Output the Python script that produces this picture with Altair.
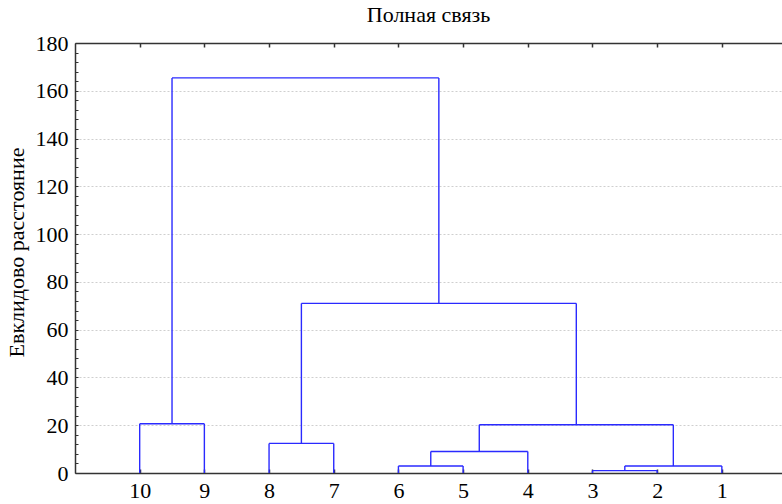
import altair as alt
import pandas as pd

# ---- data ----
leaf_labels = ["10", "9", "8", "7", "6", "5", "4", "3", "2", "1"]
merge_names = ["A", "B", "C", "D", "E", "F", "G", "H", "I"]
merge_left = ["3", "6", "A", "B", "8", "D", "10", "E", "G"]
merge_right = ["2", "5", "1", "4", "7", "C", "9", "F", "H"]
merge_height = [1.0, 2.9, 2.9, 9.0, 12.4, 20.2, 20.6, 71.0, 165.4]

y_ticks = list(range(0, 181, 20))
y_minor = list(range(0, 181, 4))
title_text = "Полная связь"
y_title = "Евклидово расстояние"

# ---- build dendrogram segments from the merge table ----
pos = {lab: i + 1 for i, lab in enumerate(leaf_labels)}
hgt = {lab: 0.0 for lab in leaf_labels}
rows = []
for name, l, r, h in zip(merge_names, merge_left, merge_right, merge_height):
    xl, xr = pos[l], pos[r]
    rows.append(dict(x=xl, x2=xl, y=hgt[l], y2=h))
    rows.append(dict(x=xr, x2=xr, y=hgt[r], y2=h))
    rows.append(dict(x=xl, x2=xr, y=h, y2=h))
    pos[name] = (xl + xr) / 2
    hgt[name] = h
df = pd.DataFrame(rows)

W, H = 707, 430
FONT = "Liberation Serif"
BLUE = "#2a2aff"
FRAME = "#333333"
leaf_positions = list(range(1, len(leaf_labels) + 1))
label_expr = "[" + ",".join("'%s'" % s for s in leaf_labels) + "][datum.value - 1]"

xscale = alt.Scale(domain=[0, 10.93], nice=False, zero=False)
yscale = alt.Scale(domain=[0, 180], nice=False)

base = alt.Chart(df)

main = base.mark_rule(color=BLUE, strokeWidth=1.4).encode(
    x=alt.X("x:Q", scale=xscale, axis=alt.Axis(
        orient="bottom", values=leaf_positions, labelExpr=label_expr,
        labelFont=FONT, labelFontSize=22, labelColor="black", labelPadding=7,
        ticks=False, tickSize=0, domain=True, domainColor=FRAME, domainWidth=1.5,
        grid=False, title=None)),
    x2="x2:Q",
    y=alt.Y("y:Q", scale=yscale, axis=alt.Axis(
        orient="left", values=y_ticks, labelFont=FONT, labelFontSize=22,
        labelColor="black", labelPadding=7, ticks=False, tickSize=0,
        domain=True, domainColor=FRAME, domainWidth=1.5,
        grid=True, gridColor="#cfcfcf", gridDash=[2, 2], gridWidth=1,
        title=y_title, titleFont=FONT, titleFontSize=22, titleFontWeight="normal",
        titleColor="black", titleX=-52, titleY=209, titleBaseline="alphabetic",
        titleAngle=270)),
    y2="y2:Q",
)

ticks_layer = base.mark_rule(opacity=0).encode(
    x=alt.X("x:Q", scale=xscale, axis=alt.Axis(
        orient="top", offset=-H, values=leaf_positions, labels=False,
        ticks=True, tickSize=4, tickColor=FRAME, tickWidth=1.5,
        domain=False, grid=False, title=None)),
    x2="x2:Q",
    y=alt.Y("y:Q", scale=yscale, axis=alt.Axis(
        orient="right", offset=-W, values=y_minor, labels=False,
        ticks=True, tickSize=3, tickColor=FRAME, tickWidth=1,
        domain=False, grid=False, title=None)),
    y2="y2:Q",
)

top_layer = base.mark_rule(opacity=0).encode(
    x=alt.X("x:Q", scale=xscale, axis=alt.Axis(
        orient="bottom", offset=-H, values=leaf_positions, labels=False,
        ticks=True, tickSize=4, tickColor=FRAME, tickWidth=1.5,
        domain=True, domainColor=FRAME, domainWidth=1.5, grid=False, title=None)),
    x2="x2:Q",
    y=alt.Y("y:Q", scale=yscale, axis=None),
    y2="y2:Q",
)

chart = alt.layer(main, ticks_layer, top_layer).resolve_scale(
    x="shared", y="shared"
).resolve_axis(
    x="independent", y="independent"
).properties(
    width=W, height=H,
    autosize=alt.AutoSizeParams(type="none"),
    padding={"left": 75, "top": 43, "right": 0, "bottom": 31},
    title=alt.TitleParams(title_text, font=FONT, fontSize=22, fontWeight="normal",
                          color="black", anchor="middle", frame="group",
                          baseline="alphabetic", offset=22, dy=34),
).configure_view(stroke=None).configure(background="white")

chart.save("out.html", embed_options={"renderer": "svg", "actions": False})
